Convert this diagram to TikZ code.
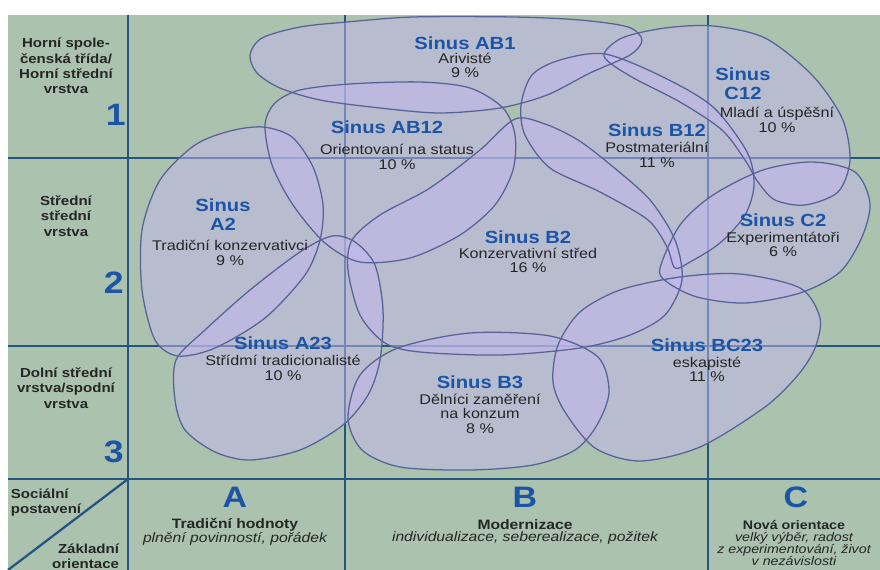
\documentclass[tikz,border=0pt]{standalone}
\usepackage{fontspec}
\setmainfont{Liberation Sans}[FakeStretch=1.15]
\usepackage{tikz}

\definecolor{paper}{RGB}{170,194,174}
\definecolor{gridline}{RGB}{36,84,128}
\definecolor{blobfill}{RGB}{196,184,238}
\definecolor{blobline}{RGB}{88,98,150}
\definecolor{sinusblue}{RGB}{28,84,166}
\definecolor{inkgray}{RGB}{38,38,38}

\newcommand{\shapeABone}{plot[smooth cycle] coordinates{(250,55) (262,38) (300,27) (347,22) (413,17) (513,17) (580,20) (628,27) (642,40) (630,55) (590,73) (547,95) (500,108) (440,113) (380,108) (320,100) (280,88) (257,73)}}
\newcommand{\shapeABtwelve}{plot[smooth cycle] coordinates{(265,125) (275,103) (300,90) (350,84) (420,82) (470,88) (503,108) (515,135) (513,170) (495,205) (460,235) (410,258) (360,262) (325,243) (293,205) (272,165)}}
\newcommand{\shapeCtwelve}{plot[smooth cycle] coordinates{(604,56) (622,38) (665,28) (713,26) (765,38) (812,75) (842,118) (850,160) (838,192) (805,205) (775,200) (758,182) (745,160) (722,130) (680,102) (630,76)}}
\newcommand{\shapeBtwelve}{plot[smooth cycle] coordinates{(521,105) (532,75) (560,60) (605,54) (663,77) (713,107) (747,152) (754,185) (745,215) (720,243) (690,262) (675,268) (667,247) (648,220) (600,192) (550,168) (525,135)}}
\newcommand{\shapeAtwo}{plot[smooth cycle] coordinates{(263,127) (292,137) (313,167) (323,205) (320,240) (305,275) (265,318) (215,348) (178,356) (155,340) (142,290) (142,230) (160,180) (195,145) (230,131)}}
\newcommand{\shapeBtwo}{plot[smooth cycle] coordinates{(515,119) (545,124) (578,140) (612,166) (650,200) (675,240) (682,280) (665,315) (630,335) (580,348) (500,355) (420,352) (385,343) (360,315) (348,270) (352,240) (380,215) (430,188) (480,150)}}
\newcommand{\shapeCtwo}{plot[smooth cycle] coordinates{(660,268) (680,225) (713,195) (763,170) (813,162) (855,172) (870,203) (862,237) (840,272) (800,293) (745,303) (697,297) (667,282)}}
\newcommand{\shapeAtwothree}{plot[smooth cycle] coordinates{(176,360) (175,400) (185,430) (215,452) (250,460) (300,450) (343,425) (368,395) (380,360) (383,310) (375,265) (355,242) (332,236) (300,252) (250,290) (205,330)}}
\newcommand{\shapeBCtwothree}{plot[smooth cycle] coordinates{(553,382) (558,345) (580,312) (620,290) (680,277) (740,274) (800,288) (820,318) (815,348) (798,375) (765,407) (700,447) (640,461) (595,448) (565,412)}}
\newcommand{\shapeBthree}{plot[smooth cycle] coordinates{(348,418) (360,375) (398,348) (470,333) (550,336) (598,357) (609,392) (597,425) (575,450) (533,465) (470,470) (400,467) (362,450)}}

\begin{document}
\begin{tikzpicture}[x=0.025cm,y=-0.025cm,
  grid/.style={gridline,line width=1.6pt},
  blobarea/.style={fill=blobfill,fill opacity=0.5},
  blobedge/.style={draw=blobline,line width=0.9pt},
  title/.style={text=sinusblue,font=\bfseries\fontsize{12.5}{13.5}\selectfont,align=center},
  note/.style={text=inkgray,font=\fontsize{10}{10.3}\selectfont,align=center},
  rowlabel/.style={text=inkgray,font=\bfseries\fontsize{9.3}{10.8}\selectfont,align=center},
  bignum/.style={text=sinusblue,font=\bfseries\fontsize{22}{22}\selectfont,anchor=east,inner sep=0pt},
  colhead/.style={text=sinusblue,font=\bfseries\fontsize{21}{21}\selectfont},
  coltext/.style={text=inkgray,font=\fontsize{9.7}{9.1}\selectfont,align=center}]
\useasboundingbox (0,0) rectangle (880,570);
\fill[white] (0,0) rectangle (880,570);
\fill[paper] (8,15) rectangle (880,570);

\draw[grid] (8,158)--(880,158);
\draw[grid] (8,346)--(880,346);
\draw[grid] (8,479)--(880,479);
\draw[grid] (128,15)--(128,570);
\draw[grid] (345,15)--(345,570);
\draw[grid] (708,15)--(708,570);
\draw[grid] (128,479)--(8,570);

\fill[blobarea] \shapeABone;
\fill[blobarea] \shapeABtwelve;
\fill[blobarea] \shapeCtwelve;
\fill[blobarea] \shapeBtwelve;
\fill[blobarea] \shapeAtwo;
\fill[blobarea] \shapeBtwo;
\fill[blobarea] \shapeCtwo;
\fill[blobarea] \shapeAtwothree;
\fill[blobarea] \shapeBCtwothree;
\fill[blobarea] \shapeBthree;

\draw[blobedge] \shapeABone;
\draw[blobedge] \shapeABtwelve;
\draw[blobedge] \shapeCtwelve;
\draw[blobedge] \shapeBtwelve;
\draw[blobedge] \shapeAtwo;
\draw[blobedge] \shapeBtwo;
\draw[blobedge] \shapeCtwo;
\draw[blobedge] \shapeAtwothree;
\draw[blobedge] \shapeBCtwothree;
\draw[blobedge] \shapeBthree;

\node[rowlabel] (row1) at (66,66) {Horní spole-\\čenská třída/\\Horní střední\\vrstva};
\node[rowlabel] (row2) at (66,216) {Střední\\střední\\vrstva};
\node[rowlabel] (row3) at (66,388) {Dolní střední\\vrstva/spodní\\vrstva};
\node[bignum] (num1) at (126,115) {1};
\node[bignum] (num2) at (124,283) {2};
\node[bignum] (num3) at (124,452) {3};

\node[title] (ab1t) at (465,43) {Sinus AB1};
\node[note] (ab1n) at (465,65.5) {Arivisté\\9 \%};
\node[title] (ab12t) at (387,127) {Sinus AB12};
\node[note] (ab12n) at (397,157) {Orientovaní na status\\10 \%};
\node[title] (c12t) at (743,84) {Sinus\\C12};
\node[note] (c12n) at (777,120) {Mladí a úspěšní\\10 \%};
\node[title] (b12t) at (657,130) {Sinus B12};
\node[note] (b12n) at (657,155) {Postmateriální\\11 \%};
\node[title] (a2t) at (223,215) {Sinus\\A2};
\node[note] (a2n) at (230,253) {Tradiční konzervativci\\9 \%};
\node[title] (b2t) at (528,237) {Sinus B2};
\node[note] (b2n) at (528,260.5) {Konzervativní střed\\16 \%};
\node[title] (c2t) at (783,220) {Sinus C2};
\node[note] (c2n) at (783,244.5) {Experimentátoři\\6 \%};
\node[title] (a23t) at (283,343) {Sinus A23};
\node[note] (a23n) at (283,368) {Střídmí tradicionalisté\\10 \%};
\node[title] (bc23t) at (707,345) {Sinus BC23};
\node[note] (bc23n) at (707,369.5) {eskapisté\\11 \%};
\node[title] (b3t) at (480,382) {Sinus B3};
\node[note] (b3n) at (480,413.5) {Dělníci zaměření\\na konzum\\8 \%};

\node[rowlabel,align=left,anchor=west] (social) at (6,502.5) {Sociální\\postavení};
\node[rowlabel,align=right,anchor=east] (basic) at (124,556.5) {Základní\\orientace};
\node[colhead] (cola) at (235,497) {A};
\node[colhead] (colb) at (525,497) {B};
\node[colhead] (colc) at (796,497) {C};
\node[coltext] (texta) at (235,531.5) {{\bfseries Tradiční hodnoty}\\{\itshape plnění povinností, pořádek}};
\node[coltext] (textb) at (525,532) {{\bfseries Modernizace}\\{\itshape individualizace, seberealizace, požitek}};
\node[coltext,font=\fontsize{8.8}{8.5}\selectfont] (textc) at (794,543) {{\bfseries Nová orientace}\\{\itshape velký výběr, radost}\\{\itshape z experimentování, život}\\{\itshape v nezávislosti}};
\end{tikzpicture}
\end{document}
